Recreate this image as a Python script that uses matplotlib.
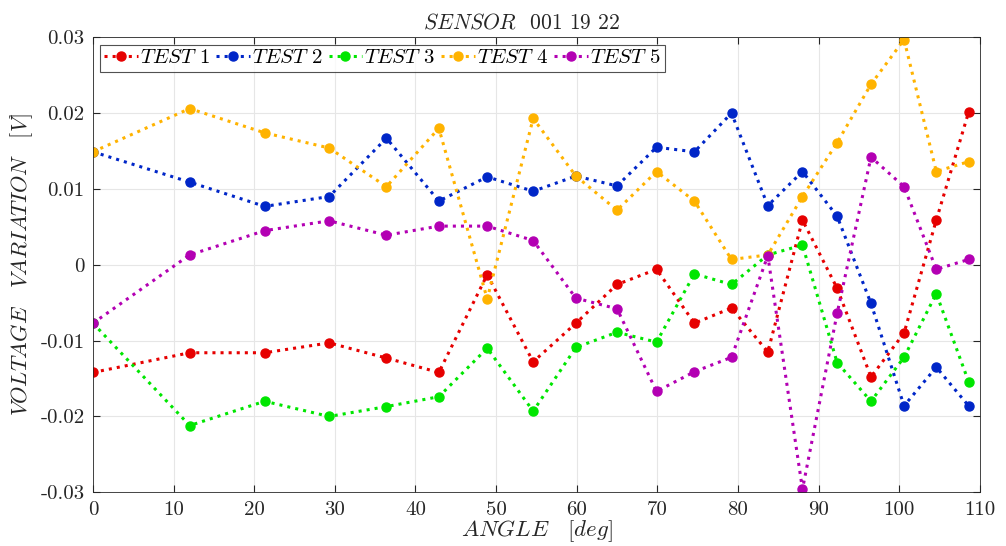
import matplotlib
matplotlib.use("Agg")
import matplotlib.pyplot as plt

plt.rcParams['mathtext.fontset'] = 'cm'
plt.rcParams['font.family'] = 'cmr10'
plt.rcParams['axes.unicode_minus'] = False

angle = [0, 12, 21.3, 29.3, 36.4, 42.9, 48.9, 54.6, 59.9, 65, 69.9, 74.6,
         79.2, 83.7, 88, 92.3, 96.5, 100.6, 104.6, 108.6]

test1 = [-0.0142, -0.0116, -0.0116, -0.0103, -0.0123, -0.0142, -0.0013, -0.0128,
         -0.0077, -0.0026, -0.0006, -0.0077, -0.0057, -0.0115, 0.0059, -0.0031,
         -0.0148, -0.0090, 0.0059, 0.0201]
test2 = [0.0149, 0.0109, 0.0077, 0.0090, 0.0167, 0.0084, 0.0116, 0.0097,
         0.0117, 0.0104, 0.0155, 0.0149, 0.0200, 0.0078, 0.0123, 0.0064,
         -0.0051, -0.0186, -0.0135, -0.0186]
test3 = [-0.0077, -0.0212, -0.0180, -0.0200, -0.0187, -0.0174, -0.0110, -0.0193,
         -0.0109, -0.0089, -0.0102, -0.0012, -0.0026, 0.0013, 0.0026, -0.0129,
         -0.0180, -0.0122, -0.0038, -0.0154]
test4 = [0.0149, 0.0206, 0.0174, 0.0154, 0.0103, 0.0180, -0.0045, 0.0193,
         0.0117, 0.0072, 0.0123, 0.0084, 0.0007, 0.0013, 0.0090, 0.0161,
         0.0238, 0.0297, 0.0123, 0.0136]
test5 = [-0.0077, 0.0013, 0.0045, 0.0058, 0.0039, 0.0051, 0.0051, 0.0032,
         -0.0044, -0.0058, -0.0167, -0.0141, -0.0122, 0.0012, -0.0296, -0.0064,
         0.0142, 0.0103, -0.0006, 0.0007]

series = [test1, test2, test3, test4, test5]
names = ['$TEST$ 1', '$TEST$ 2', '$TEST$ 3', '$TEST$ 4', '$TEST$ 5']
colors = ['#e60000', '#0026c8', '#00e600', '#ffb300', '#b300b3']

yticks = [-0.03, -0.02, -0.01, 0, 0.01, 0.02, 0.03]
ytick_labels = ['-0.03', '-0.02', '-0.01', '0', '0.01', '0.02', '0.03']
xticks = list(range(0, 111, 10))

fig = plt.figure(figsize=(10.06, 5.46), dpi=100)
ax = fig.add_axes([0.0924, 0.0984, 0.8816, 0.8333])

for ys, name, c in zip(series, names, colors):
    ax.plot(angle, ys, linestyle=':', linewidth=2.2, color=c,
            marker='o', markersize=6.5, label=name)

ax.set_xlim(0, 110)
ax.set_ylim(-0.03, 0.03)
ax.set_xticks(xticks)
ax.set_xticklabels([str(t) for t in xticks])
ax.set_yticks(yticks)
ax.set_yticklabels(ytick_labels)
ax.tick_params(direction='in', length=5, labelsize=15, colors='#262626',
               top=True, right=True, pad=6)
ax.grid(True, color='#e6e6e6', linewidth=0.8)
ax.set_axisbelow(True)
for s in ax.spines.values():
    s.set_color('#262626')
    s.set_linewidth(0.6)

ax.set_xlabel(r'$ANGLE\quad [deg]$', fontsize=16.5, color='#262626', labelpad=0)
ax.set_ylabel(r'$VOLTAGE\quad VARIATION\quad [V]$', fontsize=16,
              color='#262626', labelpad=4)
ax.set_title(r'$SENSOR$  001 19 22', fontsize=15.5, color='#262626', pad=6,
             x=0.483)

leg = ax.legend(loc='upper left', ncol=5, fontsize=15, frameon=True,
                fancybox=False, edgecolor='#262626', handlelength=1.6,
                handletextpad=0.1, columnspacing=0.3, borderpad=0.2,
                borderaxespad=0.35)
leg.get_frame().set_linewidth(0.8)

fig.savefig('out.png', dpi=100)
